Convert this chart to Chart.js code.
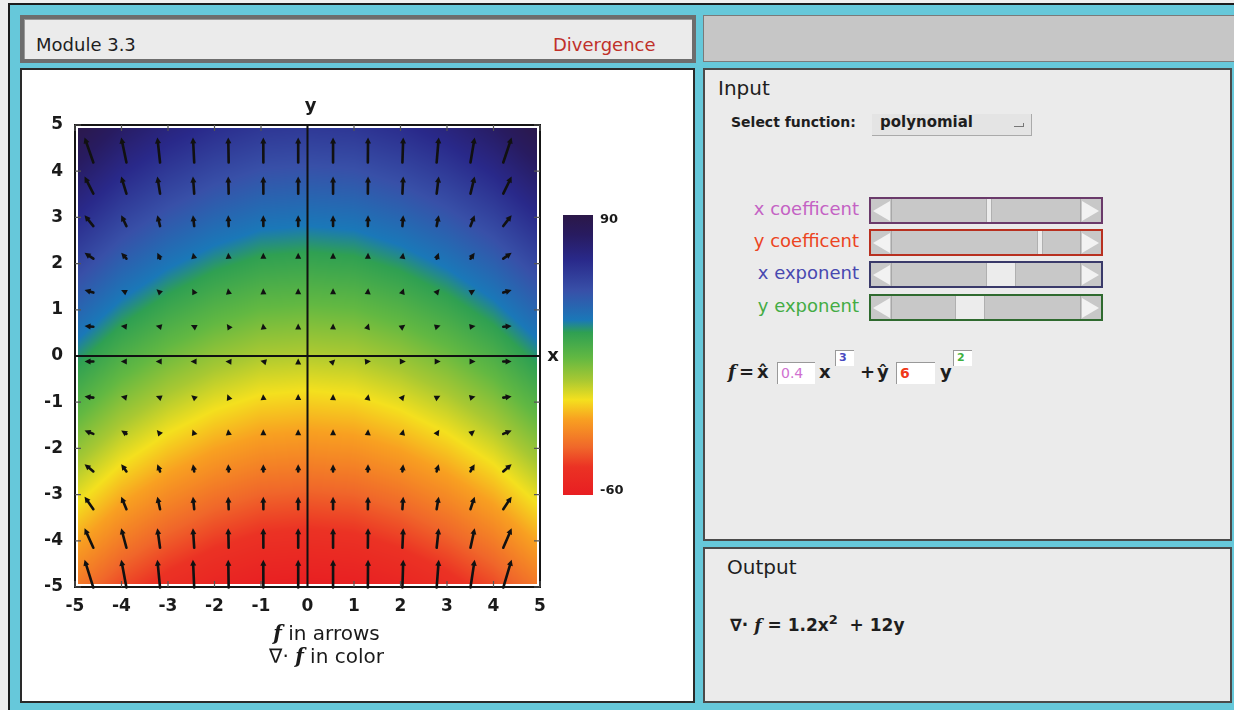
<!DOCTYPE html>
<html>
<head>
<meta charset="utf-8">
<script src="https://cdn.jsdelivr.net/npm/chart.js@4.4.1/dist/chart.umd.min.js"></script>
<style>
  body { margin: 0; width: 1234px; height: 710px; overflow: hidden; background: #eeeeee; font-family: 'DejaVu Sans', sans-serif; color: #1e1e1e; }
  .abs { position: absolute; white-space: nowrap; }
  #frame { left: 8px; top: 3px; width: 1240px; height: 720px; background: #66c8da; border: 2px solid #1c1c1c; }
  #title { left: 20px; top: 15px; width: 676px; height: 48px; box-sizing: border-box; background: #ebebeb; border: 4px solid #6d6d6d; box-shadow: inset 1px 1px 0 #999; }
  #topbar { left: 703px; top: 15px; width: 540px; height: 47px; box-sizing: border-box; background: #c6c6c6; border: 1px solid #7a7a7a; }
  #plotPanel { left: 20px; top: 68px; width: 675px; height: 635px; box-sizing: border-box; background: #fff; border: 2px solid #2a2a2a; }
  #inputPanel { left: 703px; top: 68px; width: 529px; height: 473px; box-sizing: border-box; background: #ebebeb; border: 2px solid #4a4a4a; }
  #outputPanel { left: 703px; top: 547px; width: 529px; height: 156px; box-sizing: border-box; background: #ebebeb; border: 2px solid #4a4a4a; }
  #chartCanvas { position: absolute; left: 22px; top: 70px; }
  .slider { position: absolute; left: 869px; width: 234px; height: 27px; box-sizing: border-box; background: #c8c8c8; border: 2px solid #555; }
  .slider .la { position: absolute; left: 2px; top: 2px; width: 0; height: 0; border-top: 10px solid transparent; border-bottom: 10px solid transparent; border-right: 17px solid #f2f2f2; }
  .slider .ra { position: absolute; right: 2px; top: 2px; width: 0; height: 0; border-top: 10px solid transparent; border-bottom: 10px solid transparent; border-left: 17px solid #f2f2f2; }
  .slider .sepl { position: absolute; left: 20px; top: 0; width: 1px; height: 23px; background: #a8a8a8; }
  .slider .sepr { position: absolute; right: 20px; top: 0; width: 1px; height: 23px; background: #a8a8a8; }
  .slider .thumb { position: absolute; top: 0; height: 23px; box-sizing: border-box; background: #ececec; border-left: 1px solid #b0b0b0; border-right: 1px solid #b0b0b0; }
  .lab { font-size: 18px; text-align: right; width: 140px; left: 719px; line-height: 22px; }
  .box { position: absolute; background: #fff; border-top: 1px solid #999; border-left: 1px solid #999; box-sizing: border-box; font-size: 14px; line-height: 20px; padding-left: 3px; }
  .fx { font-weight: bold; font-size: 18px; line-height: 22px; }
</style>
</head>
<body>
<div class="abs" id="frame"></div>
<div class="abs" id="title"></div>
<div class="abs" style="left:36px;top:34px;font-size:18px;line-height:22px;">Module 3.3</div>
<div class="abs" style="left:553px;top:34px;font-size:18px;line-height:22px;color:#c0302a;">Divergence</div>
<div class="abs" id="topbar"></div>
<div class="abs" id="plotPanel"></div>
<div class="abs" id="inputPanel"></div>
<div class="abs" id="outputPanel"></div>

<canvas id="chartCanvas" width="671" height="631"></canvas>

<!-- Input panel -->
<div class="abs" style="left:718px;top:76px;font-size:20px;line-height:24px;">Input</div>
<div class="abs" style="left:731px;top:112px;font-size:14px;font-weight:bold;line-height:20px;">Select function:</div>
<div class="abs" style="left:872px;top:114px;width:160px;height:22px;box-sizing:border-box;background:#e4e4e4;border-right:1px solid #aaa;border-bottom:1px solid #aaa;"></div>
<div class="abs" style="left:880px;top:112px;font-size:15px;font-weight:bold;line-height:20px;">polynomial</div>
<div class="abs" style="left:1014px;top:123px;width:9px;height:3px;border-right:1px solid #777;border-bottom:1px solid #777;"></div>
<div id="sliders"></div>

<div class="abs fx" style="left:728px;top:361px;font-family:'DejaVu Serif',serif;font-style:italic;">f</div>
<div class="abs fx" style="left:739px;top:361px;">=</div>
<div class="abs fx" style="left:757px;top:361px;">x̂</div>
<div class="box" style="left:777px;top:362px;width:38px;height:22px;color:#d070d0;">0.4</div>
<div class="abs fx" style="left:819px;top:361px;">x</div>
<div class="box" style="left:835px;top:350px;width:19px;height:16px;font-size:11px;line-height:14px;color:#4848c0;font-weight:bold;">3</div>
<div class="abs fx" style="left:860px;top:361px;">+</div>
<div class="abs fx" style="left:877px;top:361px;">ŷ</div>
<div class="box" style="left:896px;top:362px;width:39px;height:22px;color:#f03818;font-weight:bold;">6</div>
<div class="abs fx" style="left:940px;top:361px;">y</div>
<div class="box" style="left:953px;top:350px;width:19px;height:16px;font-size:11px;line-height:14px;color:#40b040;font-weight:bold;">2</div>

<!-- Output panel -->
<div class="abs" style="left:727px;top:555px;font-size:20px;line-height:24px;">Output</div>
<div class="abs" style="left:730px;top:608px;font-size:17px;font-weight:bold;line-height:24px;">∇· <span style="font-family:'DejaVu Serif',serif;font-style:italic;">f</span> = 1.2x<sup style="font-size:13px;">2</sup> &nbsp;+ 12y</div>

<script>
// ======================================
// Data
// ======================================
const tickValues = [-5, -4, -3, -2, -1, 0, 1, 2, 3, 4, 5];

// divergence (colour) sampled at integer grid points
const gridX = [-5, -4, -3, -2, -1, 0, 1, 2, 3, 4, 5];
const gridY = [5, 4, 3, 2, 1, 0, -1, -2, -3, -4, -5];
const divGrid = [
  [90, 79, 71, 65, 61, 60, 61, 65, 71, 79, 90],
  [78, 67, 59, 53, 49, 48, 49, 53, 59, 67, 78],
  [66, 55, 47, 41, 37, 36, 37, 41, 47, 55, 66],
  [54, 43, 35, 29, 25, 24, 25, 29, 35, 43, 54],
  [42, 31, 23, 17, 13, 12, 13, 17, 23, 31, 42],
  [30, 19, 11, 5, 1, 0, 1, 5, 11, 19, 30],
  [18, 7, -1, -7, -11, -12, -11, -7, -1, 7, 18],
  [6, -5, -13, -19, -23, -24, -23, -19, -13, -5, 6],
  [-6, -17, -25, -31, -35, -36, -35, -31, -25, -17, -6],
  [-18, -29, -37, -43, -47, -48, -47, -43, -37, -29, -18],
  [-30, -41, -49, -55, -59, -60, -59, -55, -49, -41, -30]
];

// arrows (f): positions + components
const arrowX = [-4.7, -3.95, -3.2, -2.45, -1.7, -0.95, -0.2, 0.55, 1.3, 2.05, 2.8, 3.55, 4.3];
const arrowY = [4.46, 3.70, 2.93, 2.17, 1.40, 0.64, -0.12, -0.89, -1.65, -2.42, -3.18, -3.94, -4.71];
const arrowU = [-42, -25, -13, -6, -2, -0.4, 0, 0.1, 1, 4, 10, 20, 40];
const arrowV = [120, 82, 52, 28, 12, 3, 0.1, 5, 16, 35, 60, 93, 133];

// colour scale
const colorMin = -60;
const colorMax = 90;
const colorTicks = [90, -60];
const colorStops = [0, 0.10, 0.17, 0.27, 0.34, 0.41, 0.49, 0.58, 0.625, 0.73, 0.84, 0.93, 1];
const colorHex = ['#e81e22', '#eb3224', '#f0672a', '#f8a021', '#f4e01e', '#a8c832', '#62b842',
                  '#2fa052', '#1a78b8', '#3850a8', '#29298a', '#281b60', '#2b1848'];

// ======================================
// Sliders (Input panel)
// ======================================
const sliderLabels = ['x coefficent', 'y coefficent', 'x exponent', 'y exponent'];
const sliderColors = ['#c462c4', '#ec4422', '#4848b0', '#44ac44'];
const sliderBorders = ['#6a3a6a', '#b83020', '#3a3a6a', '#2f6a2f'];
const sliderTops = [197, 229, 261, 294];
const thumbs = [[115, 6], [166, 6], [115, 30], [84, 30]];   // left, width inside slider

const sl = document.getElementById('sliders');
sliderLabels.forEach((t, i) => {
  const lab = document.createElement('div');
  lab.className = 'abs lab';
  lab.style.top = (sliderTops[i] + 1) + 'px';
  lab.style.color = sliderColors[i];
  lab.textContent = t;
  sl.appendChild(lab);
  const s = document.createElement('div');
  s.className = 'slider';
  s.style.top = sliderTops[i] + 'px';
  s.style.borderColor = sliderBorders[i];
  s.innerHTML = '<div class="la"></div><div class="sepl"></div><div class="sepr"></div><div class="ra"></div>' +
    '<div class="thumb" style="left:' + thumbs[i][0] + 'px;width:' + thumbs[i][1] + 'px"></div>';
  sl.appendChild(s);
});

// ======================================
// Colour helpers
// ======================================
function hexToRgb(h) {
  return [parseInt(h.slice(1, 3), 16), parseInt(h.slice(3, 5), 16), parseInt(h.slice(5, 7), 16)];
}
const stopRgb = colorHex.map(hexToRgb);

function colorFor(v) {
  let t = (v - colorMin) / (colorMax - colorMin);
  t = Math.max(0, Math.min(1, t));
  let i = 0;
  while (i < colorStops.length - 2 && t > colorStops[i + 1]) i++;
  const f = (t - colorStops[i]) / (colorStops[i + 1] - colorStops[i]);
  const a = stopRgb[i], b = stopRgb[i + 1];
  return [0, 1, 2].map(k => Math.round(a[k] + (b[k] - a[k]) * f));
}

// value at a data point, shaded between the grid samples
function gridValue(xv, yv) {
  const cx = Math.max(0, Math.min(gridX.length - 1.0001, xv - gridX[0]));
  const cy = Math.max(0, Math.min(gridY.length - 1.0001, gridY[0] - yv));
  const c = Math.floor(cx), r = Math.floor(cy);
  const fx = cx - c, fy = cy - r;
  const v00 = divGrid[r][c], v01 = divGrid[r][c + 1];
  const v10 = divGrid[r + 1][c], v11 = divGrid[r + 1][c + 1];
  return (v00 * (1 - fx) + v01 * fx) * (1 - fy) + (v10 * (1 - fx) + v11 * fx) * fy;
}

// ======================================
// Plugin: heatmap, frame, arrows, colour bar, captions
// ======================================
const fieldPlugin = {
  id: 'field',
  beforeDatasetsDraw(chart) {
    const { ctx, chartArea: a, scales: { x, y } } = chart;

    // heatmap, one pixel at a time inside the frame
    const L = Math.round(a.left + 3), T = Math.round(a.top + 3);
    const W = Math.round(a.right - 3) - L, H = Math.round(a.bottom - 3) - T;
    const img = ctx.createImageData(W, H);
    for (let j = 0; j < H; j++) {
      const yv = y.getValueForPixel(T + j + 0.5);
      for (let i = 0; i < W; i++) {
        const xv = x.getValueForPixel(L + i + 0.5);
        const rgb = colorFor(gridValue(xv, yv));
        const k = (j * W + i) * 4;
        img.data[k] = rgb[0]; img.data[k + 1] = rgb[1]; img.data[k + 2] = rgb[2]; img.data[k + 3] = 255;
      }
    }
    ctx.putImageData(img, L, T);

    // frame + inward ticks
    ctx.save();
    ctx.strokeStyle = '#151515';
    ctx.lineWidth = 2;
    ctx.strokeRect(a.left, a.top, a.right - a.left, a.bottom - a.top);
    ctx.lineWidth = 1.2;
    ctx.strokeStyle = '#555';
    tickValues.forEach(v => {
      const px = x.getPixelForValue(v), py = y.getPixelForValue(v);
      ctx.beginPath();
      ctx.moveTo(px, a.bottom); ctx.lineTo(px, a.bottom - 6);
      ctx.moveTo(px, a.top); ctx.lineTo(px, a.top + 6);
      ctx.moveTo(a.left, py); ctx.lineTo(a.left + 6, py);
      ctx.moveTo(a.right, py); ctx.lineTo(a.right - 6, py);
      ctx.stroke();
    });

    // axes through origin
    ctx.strokeStyle = '#111';
    ctx.lineWidth = 2;
    ctx.beginPath();
    ctx.moveTo(x.getPixelForValue(0), a.top);
    ctx.lineTo(x.getPixelForValue(0), a.bottom);
    ctx.moveTo(a.left, y.getPixelForValue(0));
    ctx.lineTo(a.right, y.getPixelForValue(0));
    ctx.stroke();
    ctx.restore();
  },

  afterDatasetsDraw(chart) {
    const { ctx, chartArea: a, scales: { x, y } } = chart;
    const ppu = x.getPixelForValue(1) - x.getPixelForValue(0);
    const arrowScale = 0.0045;   // data units per unit of |f|
    const head = 6, hw = 3;

    ctx.save();
    ctx.strokeStyle = '#111';
    ctx.fillStyle = '#111';
    ctx.lineWidth = 2.6;
    ctx.lineCap = 'round';
    chart.data.datasets[0].data.forEach(p => {
      const len = Math.hypot(p.u, p.v) * arrowScale * ppu;
      const ang = Math.atan2(-p.v, p.u);
      const total = Math.max(len, head);
      ctx.save();
      ctx.translate(x.getPixelForValue(p.x), y.getPixelForValue(p.y));
      ctx.rotate(ang);
      if (len > head) {
        ctx.beginPath();
        ctx.moveTo(-total / 2, 0);
        ctx.lineTo(total / 2 - head + 1, 0);
        ctx.stroke();
      }
      ctx.beginPath();
      ctx.moveTo(total / 2, 0);
      ctx.lineTo(total / 2 - head, -hw);
      ctx.lineTo(total / 2 - head, hw);
      ctx.closePath();
      ctx.fill();
      ctx.restore();
    });
    ctx.restore();

    // axis names
    ctx.save();
    ctx.fillStyle = '#1a1a1a';
    ctx.font = 'bold 18px "DejaVu Sans"';
    ctx.textAlign = 'center';
    ctx.textBaseline = 'middle';
    ctx.fillText('y', x.getPixelForValue(0) + 3, a.top - 19);
    ctx.fillText('x', a.right + 13, y.getPixelForValue(0));

    // colour bar
    const cbL = a.right + 23, cbW = 30, cbT = a.top + 90, cbB = a.top + 370;
    const grad = ctx.createLinearGradient(0, cbB, 0, cbT);
    colorStops.forEach((s, i) => grad.addColorStop(s, colorHex[i]));
    ctx.fillStyle = grad;
    ctx.fillRect(cbL, cbT, cbW, cbB - cbT);
    ctx.fillStyle = '#1a1a1a';
    ctx.font = 'bold 13px "DejaVu Sans"';
    ctx.textAlign = 'left';
    colorTicks.forEach(v => {
      const py = cbB - (v - colorMin) / (colorMax - colorMin) * (cbB - cbT);
      ctx.fillText(String(v), cbL + cbW + 7, py + (v === colorMax ? 5 : -4));
    });

    // captions
    const cx = x.getPixelForValue(0) + 19;
    const capY1 = a.bottom + 48, capY2 = a.bottom + 71;
    const fFont = 'italic bold 20px "DejaVu Serif"';
    const tFont = '20px "DejaVu Sans"';
    function caption(parts, cy) {
      let w = 0;
      parts.forEach(p => { ctx.font = p[1]; w += ctx.measureText(p[0]).width; });
      let px = cx - w / 2;
      parts.forEach(p => { ctx.font = p[1]; ctx.fillText(p[0], px, cy); px += ctx.measureText(p[0]).width; });
    }
    caption([['f', fFont], [' in arrows', tFont]], capY1);
    caption([['∇· ', tFont], ['f', fFont], [' in color', tFont]], capY2);
    ctx.restore();
  }
};

// ======================================
// Chart
// ======================================
const arrowPoints = [];
arrowY.forEach((yv, i) => arrowX.forEach((xv, j) => {
  arrowPoints.push({ x: xv, y: yv, u: arrowU[j], v: arrowV[i] });
}));

const tickFont = { family: 'DejaVu Sans', size: 17, weight: 'bold' };

new Chart(document.getElementById('chartCanvas').getContext('2d'), {
  type: 'scatter',
  data: { datasets: [{ data: arrowPoints, pointRadius: 0, pointHoverRadius: 0 }] },
  options: {
    responsive: false,
    animation: false,
    events: [],
    layout: { padding: { left: 23, right: 153, top: 55, bottom: 84 } },
    plugins: { legend: { display: false }, tooltip: { enabled: false } },
    scales: {
      x: {
        type: 'linear', min: -5, max: 5,
        afterBuildTicks: s => { s.ticks = tickValues.map(v => ({ value: v })); },
        afterFit: s => { s.height = 30; },
        grid: { display: false, drawTicks: false },
        border: { display: false },
        ticks: { font: tickFont, color: '#1a1a1a', padding: 9, maxRotation: 0 }
      },
      y: {
        type: 'linear', min: -5, max: 5,
        afterBuildTicks: s => { s.ticks = tickValues.map(v => ({ value: v })); },
        afterFit: s => { s.width = 30; },
        grid: { display: false, drawTicks: false },
        border: { display: false },
        ticks: { font: tickFont, color: '#1a1a1a', padding: 12 }
      }
    }
  },
  plugins: [fieldPlugin]
});
</script>
</body>
</html>
